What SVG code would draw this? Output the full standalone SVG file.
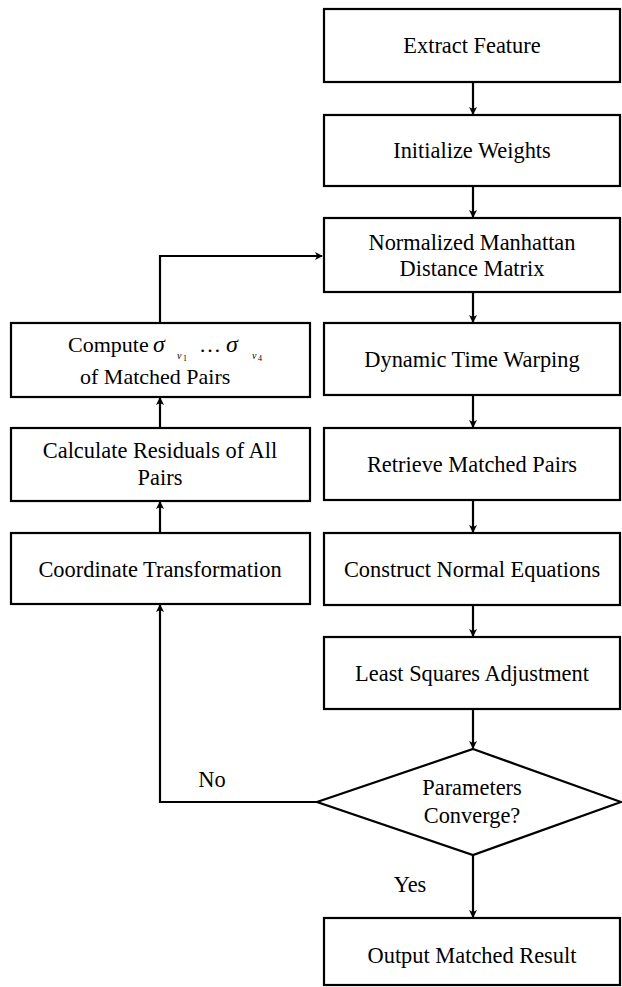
<svg xmlns="http://www.w3.org/2000/svg" width="622" height="987" viewBox="0 0 622 987">
<defs>
<style>
.box{fill:#fff;stroke:#000;stroke-width:2.2}
text{font-family:'Liberation Serif','DejaVu Serif',serif;fill:#000}
.t{font-size:22.4px;text-anchor:middle}
.l{font-size:22px}
.s{font-style:italic}
.c{fill:none;stroke:#000;stroke-width:2.2}
</style>
<marker id="ah" markerWidth="8" markerHeight="8" refX="7" refY="4" orient="auto" markerUnits="userSpaceOnUse">
<path d="M0,0 L8,4 L0,8 L2,4 Z" fill="#000"/>
</marker>
</defs>
<rect width="622" height="987" fill="#fff"/>
<g id="connectors">
<line class="c" x1="473" y1="82" x2="473" y2="114" marker-end="url(#ah)"/>
<line class="c" x1="473" y1="186" x2="473" y2="217" marker-end="url(#ah)"/>
<line class="c" x1="473" y1="292" x2="473" y2="322" marker-end="url(#ah)"/>
<line class="c" x1="473" y1="395" x2="473" y2="427" marker-end="url(#ah)"/>
<line class="c" x1="473" y1="500" x2="473" y2="532" marker-end="url(#ah)"/>
<line class="c" x1="473" y1="605" x2="473" y2="636" marker-end="url(#ah)"/>
<line class="c" x1="473" y1="709" x2="473" y2="748" marker-end="url(#ah)"/>
<line class="c" x1="473" y1="855" x2="473" y2="917" marker-end="url(#ah)"/>
<polyline class="c" points="317,802 160,802 160,605" marker-end="url(#ah)"/>
<line class="c" x1="160" y1="533" x2="160" y2="502" marker-end="url(#ah)"/>
<line class="c" x1="160" y1="428" x2="160" y2="398" marker-end="url(#ah)"/>
<polyline class="c" points="160,323 160,256 322,256" marker-end="url(#ah)"/>
<text class="t" x="212" y="787">No</text>
<text class="t" x="410" y="892">Yes</text>
</g>
<g id="extract"><rect class="box" x="324" y="9" width="296" height="73"/><text class="t" x="472" y="53">Extract Feature</text></g>
<g id="init"><rect class="box" x="324" y="115" width="296" height="71"/><text class="t" x="472" y="158">Initialize Weights</text></g>
<g id="nmd"><rect class="box" x="324" y="218" width="296" height="74"/><text class="t" x="472" y="250">Normalized Manhattan</text><text class="t" x="472" y="276">Distance Matrix</text></g>
<g id="dtw"><rect class="box" x="324" y="323" width="296" height="72"/><text class="t" x="472" y="367">Dynamic Time Warping</text></g>
<g id="retrieve"><rect class="box" x="324" y="428" width="296" height="72"/><text class="t" x="472" y="472">Retrieve Matched Pairs</text></g>
<g id="construct"><rect class="box" x="324" y="533" width="296" height="72"/><text class="t" x="472" y="577">Construct Normal Equations</text></g>
<g id="lsa"><rect class="box" x="324" y="637" width="296" height="72"/><text class="t" x="472" y="681">Least Squares Adjustment</text></g>
<g id="converge"><polygon class="box" points="473,749 621,802 473,855 317,802"/><text class="t" x="472" y="795">Parameters</text><text class="t" x="472" y="823">Converge?</text></g>
<g id="output"><rect class="box" x="324" y="918" width="296" height="67"/><text class="t" x="472" y="963">Output Matched Result</text></g>
<g id="compute"><rect class="box" x="11" y="323" width="299" height="74"/>
<text class="l" x="68" y="352">Compute</text>
<text class="s" x="153" y="352" font-size="24">σ</text>
<text class="s" x="177" y="359" font-size="10">v</text><text x="183" y="361" font-size="8">1</text>
<text class="l" x="199" y="352">…</text>
<text class="s" x="226" y="352" font-size="24">σ</text>
<text class="s" x="252" y="359" font-size="10">v</text><text x="258" y="361" font-size="8">4</text>
<text class="l" x="80" y="384">of Matched Pairs</text></g>
<g id="residuals"><rect class="box" x="11" y="428" width="299" height="73"/><text class="t" x="160" y="458">Calculate Residuals of All</text><text class="t" x="160" y="485">Pairs</text></g>
<g id="coord"><rect class="box" x="11" y="533" width="299" height="71"/><text class="t" x="160" y="577">Coordinate Transformation</text></g>
</svg>
